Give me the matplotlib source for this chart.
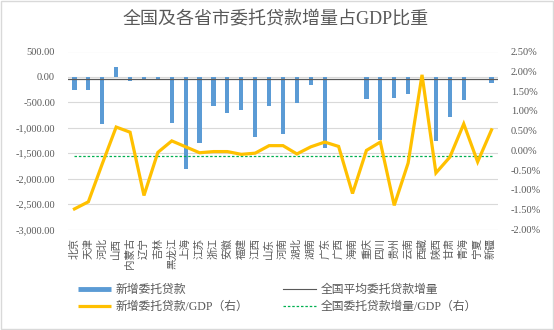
import matplotlib
matplotlib.use("Agg")
import matplotlib.pyplot as plt
from matplotlib.lines import Line2D
from matplotlib.patches import Rectangle
from matplotlib.ticker import FuncFormatter, MultipleLocator

plt.rcParams['font.family'] = ['Liberation Serif', 'Noto Sans CJK SC', 'DejaVu Sans']

# Provinces (31)
provinces = ['北京', '天津', '河北', '山西', '内蒙古', '辽宁', '吉林', '黑龙江', '上海', '江苏',
             '浙江', '安徽', '福建', '江西', '山东', '河南', '湖北', '湖南', '广东', '广西',
             '海南', '重庆', '四川', '贵州', '云南', '西藏', '陕西', '甘肃', '青海', '宁夏', '新疆']

# New entrusted loans (亿元)
new_loans = [-260, -260, -930, 190, -78, -45, -45, -903, -1813, -1296,
             -570, -707, -654, -1178, -570, -1120, -511, -157, -1388, 0,
             0, -432, -1238, -413, -327, 0, -1257, -786, -452, 0, -118]

# New entrusted loans / GDP (%)
loans_gdp = [-1.48, -1.30, -0.34, 0.59, 0.46, -1.14, -0.05, 0.24, 0.09, -0.06,
             -0.03, -0.03, -0.10, -0.07, 0.12, 0.12, -0.09, 0.09, 0.21, 0.10,
             -1.09, 0.00, 0.21, -1.39, -0.32, 1.91, -0.57, -0.17, 0.67, -0.29, 0.52]

national_avg = -50          # national average increment
national_gdp_ratio = -0.15  # national increment / GDP (%)

blue = '#5B9BD5'
yellow = '#FFC000'
green = '#00B050'
grid_c = '#D9D9D9'
text_c = '#595959'

W, H = 554, 330
fig = plt.figure(figsize=(W / 100, H / 100), dpi=100)
fig.patches.append(Rectangle((0.002, 0.002), 0.996, 0.994, transform=fig.transFigure,
                             fill=False, edgecolor=grid_c, linewidth=1.0))

ax = fig.add_axes([67.5 / W, 1 - 229.5 / H, (498.5 - 67.5) / W, (229.5 - 51.5) / H])
ax2 = ax.twinx()

x = list(range(len(provinces)))
ax.bar(x, new_loans, width=0.3, color=blue, zorder=2)
ax.axhline(national_avg, color=text_c, linewidth=0.9, zorder=3)

ax.set_ylim(-3000, 500)
ax.set_xlim(-0.5, len(provinces) - 0.5)
ax.yaxis.set_major_locator(MultipleLocator(500))
ax.yaxis.set_major_formatter(FuncFormatter(lambda v, p: f"{v:,.2f}"))
ax.grid(axis='y', color=grid_c, linewidth=0.8, zorder=0)
ax.set_axisbelow(True)

ax2.plot(x, loans_gdp, color=yellow, linewidth=2.3, zorder=4, solid_joinstyle='miter')
ax2.plot(x, [national_gdp_ratio] * len(x), color=green, linewidth=0.9, linestyle=(0, (2, 1.5)), zorder=3)
ax2.set_ylim(-2.0, 2.5)
ax2.yaxis.set_major_locator(MultipleLocator(0.5))
ax2.yaxis.set_major_formatter(FuncFormatter(lambda v, p: f"{v:.2f}%"))

for a in (ax, ax2):
    for s in a.spines.values():
        s.set_visible(False)
    a.tick_params(axis='both', length=0, colors=text_c, labelsize=7.5)
ax.tick_params(axis='y', pad=9)
ax2.tick_params(axis='y', pad=9)

ax.set_xticks(x)
ax.set_xticklabels(provinces, rotation=90, fontsize=7.6,
                   family=['Noto Sans CJK SC', 'DejaVu Sans'], color=text_c)
ax.tick_params(axis='x', pad=6)

fig.text(275.5 / W, 1 - 20 / H, '全国及各省市委托贷款增量占GDP比重', ha='center', va='center',
         fontsize=13, color=text_c, family=['Liberation Serif', 'Noto Sans CJK SC'])

handles = [
    Line2D([], [], color=blue, linewidth=3.5, solid_capstyle='butt'),
    Line2D([], [], color=yellow, linewidth=2.3, solid_capstyle='butt'),
    Line2D([], [], color=text_c, linewidth=0.8),
    Line2D([], [], color=green, linewidth=0.9, linestyle=(0, (2, 1.5))),
]
labels = ['新增委托贷款', '新增委托贷款/GDP（右）', '全国平均委托贷款增量', '全国委托贷款增量/GDP（右）']
fig.legend(handles, labels, ncol=2, loc='upper left', bbox_to_anchor=(78 / W, 1 - 284 / H),
           frameon=False, fontsize=8.5, handlelength=2.8, handletextpad=0.35,
           columnspacing=3.0, labelspacing=0.45, borderpad=0, borderaxespad=0,
           labelcolor=text_c, prop={'family': ['Liberation Serif', 'Noto Sans CJK SC'], 'size': 8.5})

fig.savefig('out.png', dpi=100)
